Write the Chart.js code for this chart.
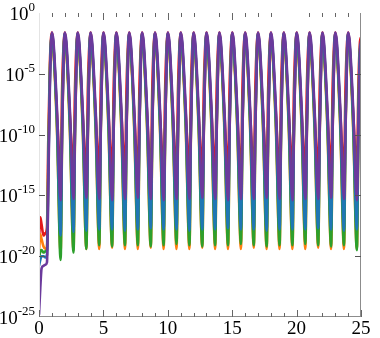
<!DOCTYPE html>
<html><head><meta charset="utf-8">
<script src="https://cdn.jsdelivr.net/npm/chart.js@4"></script>
<style>html,body{margin:0;padding:0;background:#fff;}canvas{display:block;}</style>
</head><body>
<canvas id="c" width="380" height="338"></canvas>
<script>
// x positions (time)
const xs = [0,0.1,0.2,0.35,0.5,0.62,0.72,0.85,
1,1.12,1.4,1.68,1.8,1.92, 2,2.12,2.4,2.68,2.8,2.92, 3,3.12,3.4,3.68,3.8,3.92,
4,4.12,4.4,4.68,4.8,4.92, 5,5.12,5.4,5.68,5.8,5.92, 6,6.12,6.4,6.68,6.8,6.92,
7,7.12,7.4,7.68,7.8,7.92, 8,8.12,8.4,8.68,8.8,8.92, 9,9.12,9.4,9.68,9.8,9.92,
10,10.12,10.4,10.68,10.8,10.92, 11,11.12,11.4,11.68,11.8,11.92, 12,12.12,12.4,12.68,12.8,12.92,
13,13.12,13.4,13.68,13.8,13.92, 14,14.12,14.4,14.68,14.8,14.92, 15,15.12,15.4,15.68,15.8,15.92,
16,16.12,16.4,16.68,16.8,16.92, 17,17.12,17.4,17.68,17.8,17.92, 18,18.12,18.4,18.68,18.8,18.92,
19,19.12,19.4,19.68,19.8,19.92, 20,20.12,20.4,20.68,20.8,20.92, 21,21.12,21.4,21.68,21.8,21.92,
22,22.12,22.4,22.68,22.8,22.92, 23,23.12,23.4,23.68,23.8,23.92, 24,24.12,24.4,24.68,24.8,24.92,
25];

// series values as log10 exponents
const purpleExp = [-24.8,-22.6,-21.0,-20.8,-20.7,-20.5,-14.5,-5.8,
-1.6,-2.3,-8.0,-15.4,-9.5,-3.6, -1.6,-2.3,-8.0,-15.3,-9.5,-3.6, -1.6,-2.3,-8.1,-15.2,-9.5,-3.6,
-1.6,-2.3,-8.0,-15.3,-9.5,-3.6, -1.6,-2.3,-8.0,-15.4,-9.5,-3.6, -1.6,-2.3,-8.0,-15.3,-9.5,-3.6,
-1.6,-2.3,-8.0,-15.2,-9.5,-3.6, -1.6,-2.3,-8.0,-15.3,-9.5,-3.6, -1.6,-2.3,-8.0,-15.4,-9.5,-3.6,
-1.6,-2.3,-8.0,-15.3,-9.5,-3.6, -1.6,-2.3,-8.0,-15.3,-9.5,-3.6, -1.6,-2.3,-8.0,-15.2,-9.5,-3.6,
-1.6,-2.3,-8.0,-15.3,-9.5,-3.6, -1.6,-2.3,-8.0,-15.4,-9.5,-3.6, -1.6,-2.3,-8.0,-15.3,-9.5,-3.6,
-1.6,-2.3,-8.0,-15.3,-9.5,-3.6, -1.6,-2.3,-8.0,-15.2,-9.5,-3.6, -1.6,-2.3,-8.0,-15.3,-9.5,-3.6,
-1.6,-2.3,-8.0,-15.4,-9.5,-3.6, -1.6,-2.3,-8.0,-15.3,-9.5,-3.6, -1.6,-2.3,-8.0,-15.3,-9.5,-3.6,
-1.6,-2.3,-8.0,-15.2,-9.5,-3.6, -1.6,-2.3,-8.0,-15.3,-9.5,-3.6, -1.6,-2.3,-8.0,-15.4,-9.5,-3.6,
-2.3];
const blueExp = [-20.8,-20.3,-20.0,-20.0,-20.1,-19.9,-13.5,-5.0,
-1.7,-2.6,-8.8,-18.3,-8.8,-3.0, -1.7,-2.6,-8.8,-18.0,-8.8,-3.0, -1.7,-2.6,-8.8,-17.9,-8.8,-3.0,
-1.7,-2.6,-8.8,-17.8,-8.8,-3.0, -1.7,-2.6,-8.8,-17.8,-8.8,-3.0, -1.7,-2.6,-8.8,-17.9,-8.8,-3.0,
-1.7,-2.6,-8.8,-17.8,-8.8,-3.0, -1.7,-2.6,-8.8,-17.7,-8.8,-3.0, -1.7,-2.6,-8.8,-17.8,-8.8,-3.0,
-1.7,-2.6,-8.8,-17.8,-8.8,-3.0, -1.7,-2.6,-8.8,-17.9,-8.8,-3.0, -1.7,-2.6,-8.8,-17.8,-8.8,-3.0,
-1.7,-2.6,-8.8,-17.8,-8.8,-3.0, -1.7,-2.6,-8.8,-17.7,-8.8,-3.0, -1.7,-2.6,-8.8,-17.8,-8.8,-3.0,
-1.7,-2.6,-8.8,-17.8,-8.8,-3.0, -1.7,-2.6,-8.8,-17.9,-8.8,-3.0, -1.7,-2.6,-8.8,-17.8,-8.8,-3.0,
-1.7,-2.6,-8.8,-17.8,-8.8,-3.0, -1.7,-2.6,-8.8,-17.8,-8.8,-3.0, -1.7,-2.6,-8.8,-17.7,-8.8,-3.0,
-1.7,-2.6,-8.8,-17.8,-8.8,-3.0, -1.7,-2.6,-8.8,-17.9,-8.8,-3.0, -1.7,-2.6,-8.8,-17.8,-8.8,-3.0,
-2.5];
const greenExp = [-20.2,-19.6,-19.5,-19.7,-19.6,-19.5,-13.0,-5.0,
-1.8,-2.8,-9.4,-20.3,-9.0,-3.2, -1.8,-2.8,-9.4,-19.7,-9.0,-3.2, -1.8,-2.8,-9.4,-19.4,-9.0,-3.2,
-1.8,-2.8,-9.4,-19.1,-9.0,-3.2, -1.8,-2.8,-9.4,-19.2,-9.0,-3.2, -1.8,-2.8,-9.4,-19.1,-9.0,-3.2,
-1.8,-2.8,-9.4,-19.1,-9.0,-3.2, -1.8,-2.8,-9.4,-19.2,-9.0,-3.2, -1.8,-2.8,-9.4,-19.1,-9.0,-3.2,
-1.8,-2.8,-9.4,-19.0,-9.0,-3.2, -1.8,-2.8,-9.4,-19.1,-9.0,-3.2, -1.8,-2.8,-9.4,-19.2,-9.0,-3.2,
-1.8,-2.8,-9.4,-19.1,-9.0,-3.2, -1.8,-2.8,-9.4,-19.1,-9.0,-3.2, -1.8,-2.8,-9.4,-19.0,-9.0,-3.2,
-1.8,-2.8,-9.4,-19.1,-9.0,-3.2, -1.8,-2.8,-9.4,-19.2,-9.0,-3.2, -1.8,-2.8,-9.4,-19.1,-9.0,-3.2,
-1.8,-2.8,-9.4,-19.1,-9.0,-3.2, -1.8,-2.8,-9.4,-19.0,-9.0,-3.2, -1.8,-2.8,-9.4,-19.1,-9.0,-3.2,
-1.8,-2.8,-9.4,-19.2,-9.0,-3.2, -1.8,-2.8,-9.4,-19.1,-9.0,-3.2, -1.8,-2.8,-9.4,-19.5,-9.0,-3.2,
-2.6];
const orangeExp = [-19.6,-18.2,-18.6,-19.2,-19.4,-19.2,-12.5,-4.8,
-1.9,-3.0,-9.8,-19.7,-9.5,-3.3, -1.9,-3.0,-9.8,-19.5,-9.5,-3.3, -1.9,-3.0,-9.8,-19.4,-9.5,-3.3,
-1.9,-3.0,-9.8,-19.4,-9.5,-3.3, -1.9,-3.0,-9.8,-19.3,-9.5,-3.3, -1.9,-3.0,-9.8,-19.4,-9.5,-3.3,
-1.9,-3.0,-9.8,-19.4,-9.5,-3.3, -1.9,-3.0,-9.8,-19.3,-9.5,-3.3, -1.9,-3.0,-9.8,-19.4,-9.5,-3.3,
-1.9,-3.0,-9.8,-19.4,-9.5,-3.3, -1.9,-3.0,-9.8,-19.4,-9.5,-3.3, -1.9,-3.0,-9.8,-19.3,-9.5,-3.3,
-1.9,-3.0,-9.8,-19.4,-9.5,-3.3, -1.9,-3.0,-9.8,-19.4,-9.5,-3.3, -1.9,-3.0,-9.8,-19.4,-9.5,-3.3,
-1.9,-3.0,-9.8,-19.3,-9.5,-3.3, -1.9,-3.0,-9.8,-19.4,-9.5,-3.3, -1.9,-3.0,-9.8,-19.4,-9.5,-3.3,
-1.9,-3.0,-9.8,-19.4,-9.5,-3.3, -1.9,-3.0,-9.8,-19.4,-9.5,-3.3, -1.9,-3.0,-9.8,-19.3,-9.5,-3.3,
-1.9,-3.0,-9.8,-19.4,-9.5,-3.3, -1.9,-3.0,-9.8,-19.4,-9.5,-3.3, -1.9,-3.0,-9.8,-19.4,-9.5,-3.3,
-2.7];
const redExp = [-18.6,-16.8,-17.4,-18.3,-18.1,-17.6,-10.5,-4.0,
-1.6,-2.8,-8.4,-13.0,-6.0,-2.4, -1.6,-2.8,-8.4,-12.7,-6.0,-2.4, -1.6,-2.8,-8.4,-13.2,-6.0,-2.4,
-1.6,-2.8,-8.4,-12.9,-6.0,-2.4, -1.6,-2.8,-8.4,-13.1,-6.0,-2.4, -1.6,-2.8,-8.4,-12.8,-6.0,-2.4,
-1.6,-2.8,-8.4,-13.0,-6.0,-2.4, -1.6,-2.8,-8.4,-13.2,-6.0,-2.4, -1.6,-2.8,-8.4,-12.9,-6.0,-2.4,
-1.6,-2.8,-8.4,-13.0,-6.0,-2.4, -1.6,-2.8,-8.4,-12.8,-6.0,-2.4, -1.6,-2.8,-8.4,-13.1,-6.0,-2.4,
-1.6,-2.8,-8.4,-13.0,-6.0,-2.4, -1.6,-2.8,-8.4,-12.9,-6.0,-2.4, -1.6,-2.8,-8.4,-13.2,-6.0,-2.4,
-1.6,-2.8,-8.4,-13.0,-6.0,-2.4, -1.6,-2.8,-8.4,-12.8,-6.0,-2.4, -1.6,-2.8,-8.4,-13.1,-6.0,-2.4,
-1.6,-2.8,-8.4,-12.9,-6.0,-2.4, -1.6,-2.8,-8.4,-13.0,-6.0,-2.4, -1.6,-2.8,-8.4,-13.1,-6.0,-2.4,
-1.6,-2.8,-8.4,-12.8,-6.0,-2.4, -1.6,-2.8,-8.4,-13.0,-6.0,-2.4, -1.6,-2.8,-8.4,-12.9,-6.0,-2.4,
-2.0];

const seriesNames = ['purple','blue','green','orange','red'];
const seriesColors = ['#6b3a9c','#1f77b4','#2ca02c','#ff7f0e','#e3191c'];
const seriesExps = [purpleExp, blueExp, greenExp, orangeExp, redExp];

// tick labels
const xTickValues = [0,5,10,15,20,25];
const yTickExps = [0,-5,-10,-15,-20,-25];
const xMinorTicks = [0,1,2,3,4,5,6,7,8,9,10,11,12,13,14,15,16,17,18,19,20,21,22,23,24,25];
const xTopTicks = [1,2,3,4,5,6,7,8,9,10,11,12,14,15,16,17,18,21,22,23,24];

const SERIF = '"Liberation Serif", "Times New Roman", Times, serif';

const axesPlugin = {
  id: 'axesPlugin',
  afterDraw(chart) {
    const ctx = chart.ctx;
    const {left, right, top, bottom} = chart.chartArea;
    const xs_ = chart.scales.x, ys_ = chart.scales.y;
    ctx.save();
    ctx.lineWidth = 1;
    ctx.strokeStyle = '#e4e4e4';
    ctx.beginPath(); ctx.moveTo(Math.round(left)+0.5, top); ctx.lineTo(Math.round(left)+0.5, bottom); ctx.stroke();
    ctx.strokeStyle = '#8c8c8c';
    ctx.beginPath(); ctx.moveTo(Math.round(right)-0.5, top); ctx.lineTo(Math.round(right)-0.5, bottom); ctx.stroke();
    ctx.beginPath(); ctx.moveTo(left, Math.round(bottom)-0.5); ctx.lineTo(right, Math.round(bottom)-0.5); ctx.stroke();
    ctx.strokeStyle = '#666';
    for (const v of xMinorTicks) {
      const px = Math.round(xs_.getPixelForValue(v)) + 0.5;
      const len = v % 5 === 0 ? 7 : 4;
      ctx.beginPath(); ctx.moveTo(px, bottom); ctx.lineTo(px, bottom - len); ctx.stroke();
    }
    for (const v of xTopTicks) {
      const px = Math.round(xs_.getPixelForValue(v)) + 0.5;
      const len = v % 5 === 0 ? 7 : 4;
      ctx.beginPath(); ctx.moveTo(px, top); ctx.lineTo(px, top + len); ctx.stroke();
    }
    for (const e of yTickExps) {
      const py = Math.round(ys_.getPixelForValue(Math.pow(10, e))) + 0.5;
      if (e !== 0 && e !== -25) {
        ctx.strokeStyle = '#555';
        ctx.beginPath(); ctx.moveTo(left, py); ctx.lineTo(left + 6, py); ctx.stroke();
        ctx.beginPath(); ctx.moveTo(right, py); ctx.lineTo(right - 6, py); ctx.stroke();
      }
      const expTxt = String(e);
      ctx.fillStyle = '#000';
      ctx.textBaseline = 'alphabetic';
      ctx.textAlign = 'left';
      ctx.font = '13px ' + SERIF;
      const we = ctx.measureText(expTxt).width;
      ctx.font = '19px ' + SERIF;
      const wb = ctx.measureText('10').width;
      const x0 = 35 - we - wb;
      ctx.fillText('10', x0, py + 6);
      ctx.font = '13px ' + SERIF;
      ctx.fillText(expTxt, x0 + wb, py - 3);
    }
    ctx.restore();
  }
};

function makeChart() {
  const datasets = seriesNames.map((name, i) => ({
    label: name,
    data: xs.map((x, k) => ({x: x, y: Math.pow(10, seriesExps[i][k])})),
    borderColor: seriesColors[i],
    borderWidth: 2.6,
    pointRadius: 0,
    cubicInterpolationMode: 'monotone',
    fill: false
  }));
  new Chart(document.getElementById('c'), {
    type: 'line',
    data: {datasets},
    options: {
      responsive: false,
      animation: false,
      devicePixelRatio: 1,
      layout: {padding: {top: 13, right: 19, left: 0, bottom: 0}},
      plugins: {legend: {display: false}, tooltip: {enabled: false}},
      scales: {
        x: {
          type: 'linear', min: 0, max: 25,
          afterBuildTicks(s) { s.ticks = xTickValues.map(v => ({value: v})); },
          ticks: {font: {family: SERIF, size: 19}, color: '#000', padding: 1, maxRotation: 0, autoSkip: false},
          grid: {display: false, drawTicks: false},
          border: {display: false},
          afterFit(s) { s.height = 21; }
        },
        y: {
          type: 'logarithmic', min: 1e-25, max: 1,
          afterBuildTicks(s) { s.ticks = yTickExps.map(e => ({value: Math.pow(10, e)})); },
          ticks: {display: false},
          grid: {display: false, drawTicks: false},
          border: {display: false},
          afterFit(s) { s.width = 39; }
        }
      }
    },
    plugins: [axesPlugin]
  });
}
makeChart();
</script>
</body></html>
